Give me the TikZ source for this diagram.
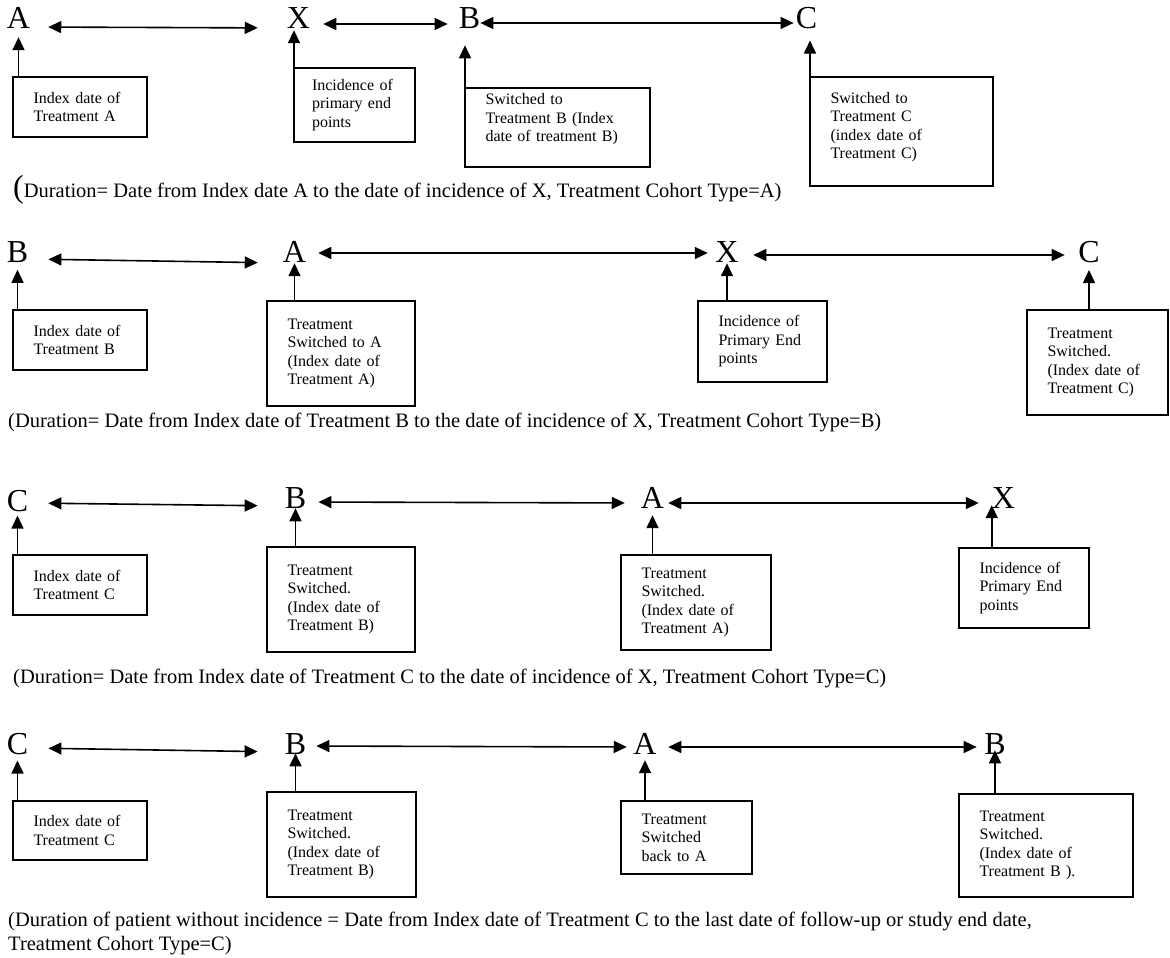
\documentclass[tikz,border=0pt]{standalone}
\usepackage{fontspec}
\setmainfont{Liberation Serif}
\usetikzlibrary{arrows.meta}
\tikzset{
  evt/.style={font=\fontsize{32}{38}\selectfont, inner sep=0pt, anchor=base},
  evbox/.style={draw, line width=1.4pt, outer sep=0pt, align=left, anchor=north west, font=\fontsize{16}{18.5}\selectfont, inner xsep=20.5pt, inner ysep=0pt},
  dur/.style={anchor=base west, inner sep=0pt, align=left, font=\fontsize{20.5}{24}\selectfont},
  dbl/.style={{Triangle[length=13pt,width=12pt]}-{Triangle[length=13pt,width=12pt]}, line width=1.6pt},
  uparr/.style={-{Triangle[length=13pt,width=12pt]}, line width=1.6pt}}

\begin{document}
\begin{tikzpicture}[x=1pt, y=-1pt]
  \useasboundingbox (0,0) rectangle (1170,958);
  % row 1: cohort type A
  \node[evt] (a1) at (18.5,29) {A};
  \node[evt] (x1) at (298.5,29) {X};
  \node[evt] (b1) at (469.5,29) {B};
  \node[evt] (c1) at (806.5,29) {C};
  \node[evbox, text width=93pt, minimum height=60pt] (ia1) at (13,77) {Index date of\\Treatment A};
  \node[evbox, text width=85pt, inner xsep=18pt, minimum height=74pt] (ix1) at (294,68) {Incidence of\\primary end\\points};
  \node[evbox, text width=144pt, minimum height=79pt] (ib1) at (465,88) {Switched to\\Treatment B (Index\\date of treatment B)\rule[-20pt]{0pt}{20pt}};
  \node[evbox, text width=142pt, minimum height=109pt] (ic1) at (810,77) {Switched to\\Treatment C\\(index date of\\Treatment C)\rule[-12pt]{0pt}{12pt}};
  \node[dur] (d1) at (13,197) {{\fontsize{32}{36}\selectfont(}Duration= Date from Index date A to the date of incidence of X, Treatment Cohort Type=A)};
  \draw[dbl, shorten <=18pt, shorten >=29pt] ([yshift=2pt]a1.base east) -- ([yshift=1pt]x1.base west);
  \draw[dbl, shorten <=13pt, shorten >=11pt] ([yshift=5pt]x1.base east) -- ([yshift=5pt]b1.base west);
  \draw[dbl, shorten <=0pt, shorten >=2pt] ([yshift=6pt]b1.base east) -- ([yshift=6pt]c1.base west);
  \draw[uparr, shorten >=8pt] (ia1.north -| a1) -- (a1.south);
  \draw[uparr, shorten >=1pt] (ix1.north west) -- (ix1.north west |- x1.south);
  \draw[uparr, shorten >=16pt] (ib1.north west) -- (ib1.north west |- b1.south);
  \draw[uparr, shorten >=11pt] (ic1.north west) -- (ic1.north west |- c1.south);
  % row 2: cohort type B
  \node[evt] (b2) at (17.5,262.5) {B};
  \node[evt] (a2) at (294.5,262.5) {A};
  \node[evt] (x2) at (727,262.5) {X};
  \node[evt] (c2) at (1089,262.5) {C};
  \node[evbox, text width=93pt, minimum height=60pt] (ib2) at (13,310) {Index date of\\Treatment B};
  \node[evbox, text width=107pt, minimum height=105pt] (ia2) at (267,301) {Treatment\\Switched to A\\(Index date of\\Treatment A)};
  \node[evbox, text width=88pt, minimum height=81pt] (ix2) at (698,301) {Incidence of\\Primary End\\points};
  \node[evbox, text width=100pt, minimum height=105pt] (ic2) at (1027,310) {Treatment\\Switched.\\(Index date of\\Treatment C)};
  \node[dur] (d2) at (8,427) {(Duration= Date from Index date of Treatment B to the date of incidence of X, Treatment Cohort Type=B)};
  \draw[dbl, shorten <=20pt, shorten >=25pt] ([yshift=3.5pt]b2.base east) -- ([yshift=-0.5pt]a2.base west);
  \draw[dbl, shorten <=12pt, shorten >=7.5pt] ([yshift=9.5pt]a2.base east) -- ([yshift=9.5pt]x2.base west);
  \draw[dbl, shorten <=14.5pt, shorten >=13.5pt] ([yshift=7.5pt]x2.base east) -- ([yshift=7.5pt]c2.base west);
  \draw[uparr, shorten >=7pt] (ib2.north -| b2) -- (b2.south);
  \draw[uparr, shorten >=0.5pt] (ia2.north -| a2) -- (a2.south);
  \draw[uparr, shorten >=0.5pt] (ix2.north -| x2) -- (x2.south);
  \draw[uparr, shorten >=7pt] (ic2.north -| c2) -- (c2.south);
  % row 3: cohort type C
  \node[evt] (c3) at (17.5,511) {C};
  \node[evt] (b3) at (295.5,508) {B};
  \node[evt] (a3) at (652.5,508) {A};
  \node[evt] (x3) at (1003.5,508) {X};
  \node[evbox, text width=93pt, minimum height=60pt] (ic3) at (13,555) {Index date of\\Treatment C};
  \node[evbox, text width=107pt, minimum height=105pt] (ib3) at (267,547) {Treatment\\Switched.\\(Index date of\\Treatment B)};
  \node[evbox, text width=109pt, minimum height=95pt] (ia3) at (621,555) {Treatment\\Switched.\\(Index date of\\Treatment A)};
  \node[evbox, text width=89pt, minimum height=80pt] (ix3) at (959,548) {Incidence of\\Primary End\\points};
  \node[dur] (d3) at (13,683) {(Duration= Date from Index date of Treatment C to the date of incidence of X, Treatment Cohort Type=C)};
  \draw[dbl, shorten <=20pt, shorten >=27pt] ([yshift=8pt]c3.base east) -- ([yshift=2pt]b3.base west);
  \draw[dbl, shorten <=12pt, shorten >=16pt] ([yshift=6pt]b3.base east) -- ([yshift=5pt]a3.base west);
  \draw[dbl, shorten <=4pt, shorten >=13pt] ([yshift=5pt]a3.base east) -- ([yshift=5pt]x3.base west);
  \draw[uparr, shorten >=4pt] (ic3.north -| c3) -- (c3.south);
  \draw[uparr, shorten >=0pt] (ib3.north -| b3) -- (b3.south);
  \draw[uparr, shorten >=7pt] (ia3.north -| a3) -- (a3.south);
  \draw[uparr, shorten >=-3pt] (ix3.north -| x3.west) -- (x3.south west);
  % row 4: no incidence, back to A
  \node[evt] (c4) at (17.5,754) {C};
  \node[evt] (b4) at (295.5,754) {B};
  \node[evt] (a4) at (645,754) {A};
  \node[evt] (bb4) at (995,754) {B};
  \node[evbox, text width=93pt, minimum height=59pt] (ic4) at (13,801) {Index date of\\Treatment C};
  \node[evbox, text width=108pt, minimum height=105pt] (ib4) at (267,792) {Treatment\\Switched.\\(Index date of\\Treatment B)};
  \node[evbox, text width=90pt, minimum height=73pt] (ia4) at (621,801) {Treatment\\Switched\\back to A};
  \node[evbox, text width=133pt, minimum height=103pt] (ibb4) at (959,794) {Treatment\\Switched.\\(Index date of\\Treatment B ).};
  \node[dur] (d4) at (8,950) {(Duration of patient without incidence = Date from Index date of Treatment C to the last date of follow-up or study end date,\\Treatment Cohort Type=C)};
  \draw[dbl, shorten <=20pt, shorten >=27pt] ([yshift=6pt]c4.base east) -- ([yshift=2pt]b4.base west);
  \draw[dbl, shorten <=10pt, shorten >=6.5pt] ([yshift=8pt]b4.base east) -- ([yshift=7pt]a4.base west);
  \draw[dbl, shorten <=11.5pt, shorten >=7.5pt] ([yshift=7pt]a4.base east) -- ([yshift=7pt]bb4.base west);
  \draw[uparr, shorten >=6pt] (ic4.north -| c4) -- (c4.south);
  \draw[uparr, shorten >=-1pt] (ib4.north -| b4) -- (b4.south);
  \draw[uparr, shorten >=6pt] (ia4.north -| a4) -- (a4.south);
  \draw[uparr, shorten >=-4pt] (ibb4.north -| bb4) -- (bb4.south);
\end{tikzpicture}
\end{document}
